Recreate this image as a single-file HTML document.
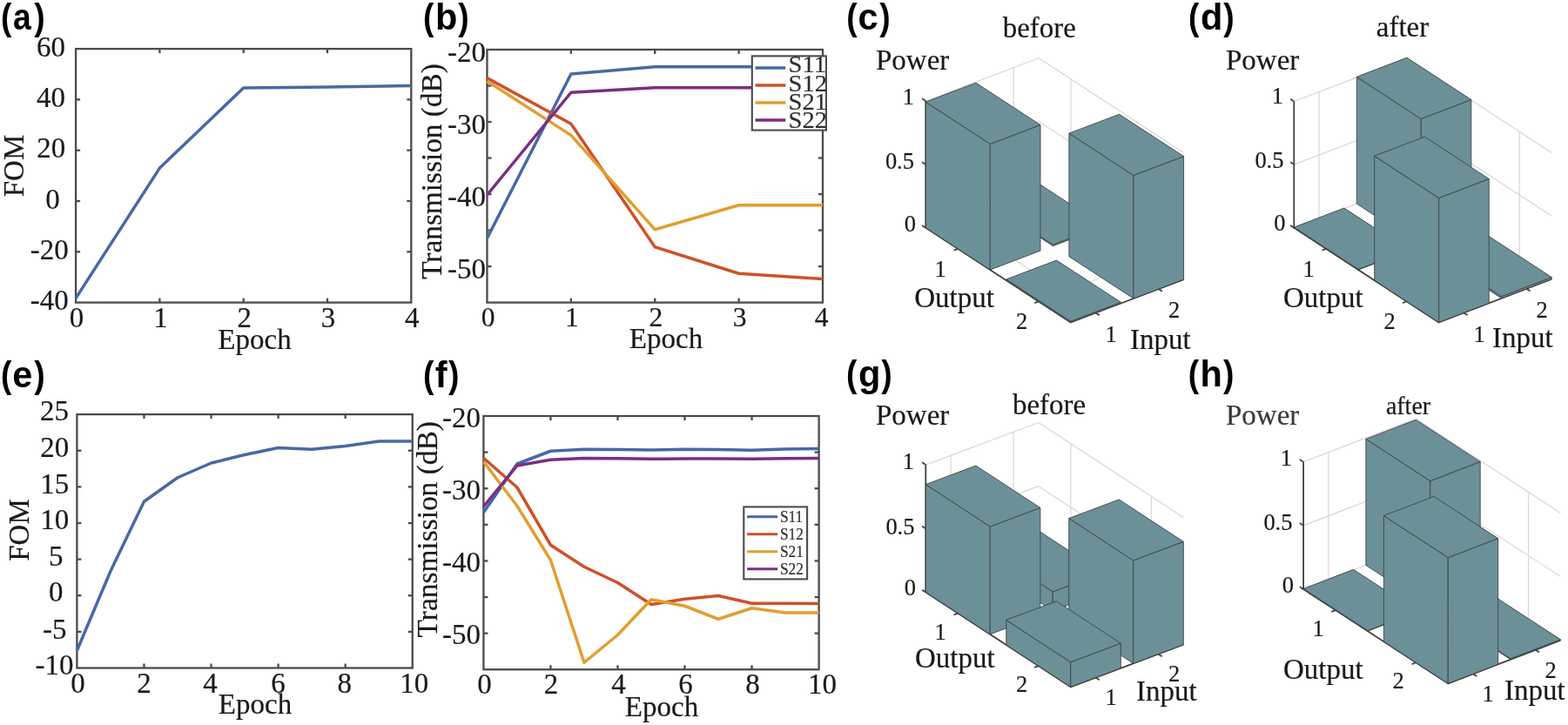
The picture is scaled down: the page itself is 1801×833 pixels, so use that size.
<!DOCTYPE html>
<html lang="en"><head><meta charset="utf-8"><title>Optimization results</title>
<style>html,body{margin:0;padding:0;background:#fff;}body{width:1801px;height:833px;overflow:hidden;}svg{display:block;}text{white-space:pre;}</style>
</head><body>
<svg width="1801" height="833" viewBox="0 0 1801 833" role="img" aria-label="Optimization results, panels a to h">
<rect width="1801" height="833" fill="#fff"/>
<g>
<clipPath id="clipa"><rect x="85.95" y="54.95" width="387.5" height="293.8"/></clipPath>
<rect x="87.1" y="56.1" width="385.2" height="291.5" fill="none" stroke="#4b4b4b" stroke-width="2.3"/>
<line x1="183.4" y1="347.6" x2="183.4" y2="342.6" stroke="#4b4b4b" stroke-width="2.3" stroke-linecap="butt"/>
<line x1="183.4" y1="56.1" x2="183.4" y2="61.1" stroke="#4b4b4b" stroke-width="2.3" stroke-linecap="butt"/>
<line x1="279.7" y1="347.6" x2="279.7" y2="342.6" stroke="#4b4b4b" stroke-width="2.3" stroke-linecap="butt"/>
<line x1="279.7" y1="56.1" x2="279.7" y2="61.1" stroke="#4b4b4b" stroke-width="2.3" stroke-linecap="butt"/>
<line x1="376" y1="347.6" x2="376" y2="342.6" stroke="#4b4b4b" stroke-width="2.3" stroke-linecap="butt"/>
<line x1="376" y1="56.1" x2="376" y2="61.1" stroke="#4b4b4b" stroke-width="2.3" stroke-linecap="butt"/>
<line x1="87.1" y1="114.4" x2="92.1" y2="114.4" stroke="#4b4b4b" stroke-width="2.3" stroke-linecap="butt"/>
<line x1="472.3" y1="114.4" x2="467.3" y2="114.4" stroke="#4b4b4b" stroke-width="2.3" stroke-linecap="butt"/>
<line x1="87.1" y1="172.7" x2="92.1" y2="172.7" stroke="#4b4b4b" stroke-width="2.3" stroke-linecap="butt"/>
<line x1="472.3" y1="172.7" x2="467.3" y2="172.7" stroke="#4b4b4b" stroke-width="2.3" stroke-linecap="butt"/>
<line x1="87.1" y1="231" x2="92.1" y2="231" stroke="#4b4b4b" stroke-width="2.3" stroke-linecap="butt"/>
<line x1="472.3" y1="231" x2="467.3" y2="231" stroke="#4b4b4b" stroke-width="2.3" stroke-linecap="butt"/>
<line x1="87.1" y1="289.3" x2="92.1" y2="289.3" stroke="#4b4b4b" stroke-width="2.3" stroke-linecap="butt"/>
<line x1="472.3" y1="289.3" x2="467.3" y2="289.3" stroke="#4b4b4b" stroke-width="2.3" stroke-linecap="butt"/>
<g clip-path="url(#clipa)">
<polyline points="87.1,342.6 183.4,193.1 279.7,100.9 376,100.1 472.3,98.4" fill="none" stroke="#4769a5" stroke-width="3.5" stroke-linejoin="round" stroke-linecap="butt"/>
</g>
<text transform="translate(88.1 375.8) scale(1 1.03)" font-family="'Liberation Serif', 'DejaVu Serif', serif" font-size="33" font-weight="normal" text-anchor="middle" fill="#1a1a1a" stroke="#1a1a1a" stroke-width="0.2">0</text>
<text transform="translate(184.4 375.8) scale(1 1.03)" font-family="'Liberation Serif', 'DejaVu Serif', serif" font-size="33" font-weight="normal" text-anchor="middle" fill="#1a1a1a" stroke="#1a1a1a" stroke-width="0.2">1</text>
<text transform="translate(280.7 375.8) scale(1 1.03)" font-family="'Liberation Serif', 'DejaVu Serif', serif" font-size="33" font-weight="normal" text-anchor="middle" fill="#1a1a1a" stroke="#1a1a1a" stroke-width="0.2">2</text>
<text transform="translate(377 375.8) scale(1 1.03)" font-family="'Liberation Serif', 'DejaVu Serif', serif" font-size="33" font-weight="normal" text-anchor="middle" fill="#1a1a1a" stroke="#1a1a1a" stroke-width="0.2">3</text>
<text transform="translate(473.3 375.8) scale(1 1.03)" font-family="'Liberation Serif', 'DejaVu Serif', serif" font-size="33" font-weight="normal" text-anchor="middle" fill="#1a1a1a" stroke="#1a1a1a" stroke-width="0.2">4</text>
<text transform="translate(75 65) scale(1 1.03)" font-family="'Liberation Serif', 'DejaVu Serif', serif" font-size="33" font-weight="normal" text-anchor="end" fill="#1a1a1a" stroke="#1a1a1a" stroke-width="0.2">60</text>
<text transform="translate(75 123.3) scale(1 1.03)" font-family="'Liberation Serif', 'DejaVu Serif', serif" font-size="33" font-weight="normal" text-anchor="end" fill="#1a1a1a" stroke="#1a1a1a" stroke-width="0.2">40</text>
<text transform="translate(75.3 181) scale(1 1.03)" font-family="'Liberation Serif', 'DejaVu Serif', serif" font-size="33" font-weight="normal" text-anchor="end" fill="#1a1a1a" stroke="#1a1a1a" stroke-width="0.2">20</text>
<text transform="translate(68.7 239.5) scale(1 1.03)" font-family="'Liberation Serif', 'DejaVu Serif', serif" font-size="33" font-weight="normal" text-anchor="end" fill="#1a1a1a" stroke="#1a1a1a" stroke-width="0.2">0</text>
<text transform="translate(78.7 298.2) scale(1 1.03)" font-family="'Liberation Serif', 'DejaVu Serif', serif" font-size="33" font-weight="normal" text-anchor="end" fill="#1a1a1a" stroke="#1a1a1a" stroke-width="0.2">-20</text>
<text transform="translate(78.7 355.8) scale(1 1.03)" font-family="'Liberation Serif', 'DejaVu Serif', serif" font-size="33" font-weight="normal" text-anchor="end" fill="#1a1a1a" stroke="#1a1a1a" stroke-width="0.2">-40</text>
<text transform="translate(292.5 401.4) scale(1 1.04)" font-family="'Liberation Serif', 'DejaVu Serif', serif" font-size="33" font-weight="normal" text-anchor="middle" fill="#1a1a1a" stroke="#1a1a1a" stroke-width="0.2">Epoch</text>
<text transform="translate(26.8 190.5) rotate(-90) scale(1 1.04)" font-family="'Liberation Serif', 'DejaVu Serif', serif" font-size="33" font-weight="normal" text-anchor="middle" fill="#1a1a1a" stroke="#1a1a1a" stroke-width="0.2">FOM</text>
</g>
<g>
<clipPath id="clipb"><rect x="558.35" y="55.85" width="387.8" height="292.9"/></clipPath>
<rect x="559.5" y="57" width="385.5" height="290.6" fill="none" stroke="#4b4b4b" stroke-width="2.3"/>
<line x1="655.88" y1="347.6" x2="655.88" y2="342.6" stroke="#4b4b4b" stroke-width="2.3" stroke-linecap="butt"/>
<line x1="655.88" y1="57" x2="655.88" y2="62" stroke="#4b4b4b" stroke-width="2.3" stroke-linecap="butt"/>
<line x1="752.25" y1="347.6" x2="752.25" y2="342.6" stroke="#4b4b4b" stroke-width="2.3" stroke-linecap="butt"/>
<line x1="752.25" y1="57" x2="752.25" y2="62" stroke="#4b4b4b" stroke-width="2.3" stroke-linecap="butt"/>
<line x1="848.62" y1="347.6" x2="848.62" y2="342.6" stroke="#4b4b4b" stroke-width="2.3" stroke-linecap="butt"/>
<line x1="848.62" y1="57" x2="848.62" y2="62" stroke="#4b4b4b" stroke-width="2.3" stroke-linecap="butt"/>
<line x1="559.5" y1="98.51" x2="564.5" y2="98.51" stroke="#4b4b4b" stroke-width="2.3" stroke-linecap="butt"/>
<line x1="945" y1="98.51" x2="940" y2="98.51" stroke="#4b4b4b" stroke-width="2.3" stroke-linecap="butt"/>
<line x1="559.5" y1="140.03" x2="564.5" y2="140.03" stroke="#4b4b4b" stroke-width="2.3" stroke-linecap="butt"/>
<line x1="945" y1="140.03" x2="940" y2="140.03" stroke="#4b4b4b" stroke-width="2.3" stroke-linecap="butt"/>
<line x1="559.5" y1="181.54" x2="564.5" y2="181.54" stroke="#4b4b4b" stroke-width="2.3" stroke-linecap="butt"/>
<line x1="945" y1="181.54" x2="940" y2="181.54" stroke="#4b4b4b" stroke-width="2.3" stroke-linecap="butt"/>
<line x1="559.5" y1="223.06" x2="564.5" y2="223.06" stroke="#4b4b4b" stroke-width="2.3" stroke-linecap="butt"/>
<line x1="945" y1="223.06" x2="940" y2="223.06" stroke="#4b4b4b" stroke-width="2.3" stroke-linecap="butt"/>
<line x1="559.5" y1="264.57" x2="564.5" y2="264.57" stroke="#4b4b4b" stroke-width="2.3" stroke-linecap="butt"/>
<line x1="945" y1="264.57" x2="940" y2="264.57" stroke="#4b4b4b" stroke-width="2.3" stroke-linecap="butt"/>
<line x1="559.5" y1="306.09" x2="564.5" y2="306.09" stroke="#4b4b4b" stroke-width="2.3" stroke-linecap="butt"/>
<line x1="945" y1="306.09" x2="940" y2="306.09" stroke="#4b4b4b" stroke-width="2.3" stroke-linecap="butt"/>
<g clip-path="url(#clipb)">
<polyline points="559.5,273.75 655.88,85 752.25,76.75 848.62,76.75 945,76.75" fill="none" stroke="#4769a5" stroke-width="3.5" stroke-linejoin="round" stroke-linecap="butt"/>
<polyline points="559.5,89.6 655.88,142.2 752.25,283.75 848.62,314.25 945,320.5" fill="none" stroke="#cd5228" stroke-width="3.5" stroke-linejoin="round" stroke-linecap="butt"/>
<polyline points="559.5,93.3 655.88,155.4 752.25,263.75 848.62,235.75 945,235.75" fill="none" stroke="#e29e30" stroke-width="3.5" stroke-linejoin="round" stroke-linecap="butt"/>
<polyline points="559.5,224 655.88,106.25 752.25,100.75 848.62,100.75 945,100.75" fill="none" stroke="#7b2d84" stroke-width="3.5" stroke-linejoin="round" stroke-linecap="butt"/>
</g>
<text transform="translate(560.5 374.6) scale(1 1.03)" font-family="'Liberation Serif', 'DejaVu Serif', serif" font-size="31.5" font-weight="normal" text-anchor="middle" fill="#1a1a1a" stroke="#1a1a1a" stroke-width="0.2">0</text>
<text transform="translate(656.88 374.6) scale(1 1.03)" font-family="'Liberation Serif', 'DejaVu Serif', serif" font-size="31.5" font-weight="normal" text-anchor="middle" fill="#1a1a1a" stroke="#1a1a1a" stroke-width="0.2">1</text>
<text transform="translate(753.25 374.6) scale(1 1.03)" font-family="'Liberation Serif', 'DejaVu Serif', serif" font-size="31.5" font-weight="normal" text-anchor="middle" fill="#1a1a1a" stroke="#1a1a1a" stroke-width="0.2">2</text>
<text transform="translate(849.62 374.6) scale(1 1.03)" font-family="'Liberation Serif', 'DejaVu Serif', serif" font-size="31.5" font-weight="normal" text-anchor="middle" fill="#1a1a1a" stroke="#1a1a1a" stroke-width="0.2">3</text>
<text transform="translate(943.5 374.6) scale(1 1.03)" font-family="'Liberation Serif', 'DejaVu Serif', serif" font-size="31.5" font-weight="normal" text-anchor="middle" fill="#1a1a1a" stroke="#1a1a1a" stroke-width="0.2">4</text>
<text transform="translate(558 71) scale(1 1.03)" font-family="'Liberation Serif', 'DejaVu Serif', serif" font-size="33" font-weight="normal" text-anchor="end" fill="#1a1a1a" stroke="#1a1a1a" stroke-width="0.2">-20</text>
<text transform="translate(558 154.03) scale(1 1.03)" font-family="'Liberation Serif', 'DejaVu Serif', serif" font-size="33" font-weight="normal" text-anchor="end" fill="#1a1a1a" stroke="#1a1a1a" stroke-width="0.2">-30</text>
<text transform="translate(558 237.06) scale(1 1.03)" font-family="'Liberation Serif', 'DejaVu Serif', serif" font-size="33" font-weight="normal" text-anchor="end" fill="#1a1a1a" stroke="#1a1a1a" stroke-width="0.2">-40</text>
<text transform="translate(558 320.09) scale(1 1.03)" font-family="'Liberation Serif', 'DejaVu Serif', serif" font-size="33" font-weight="normal" text-anchor="end" fill="#1a1a1a" stroke="#1a1a1a" stroke-width="0.2">-50</text>
<text transform="translate(765 399.7) scale(1 1.04)" font-family="'Liberation Serif', 'DejaVu Serif', serif" font-size="33" font-weight="normal" text-anchor="middle" fill="#1a1a1a" stroke="#1a1a1a" stroke-width="0.2">Epoch</text>
<text transform="translate(507.3 197) rotate(-90) scale(1 1.04)" font-family="'Liberation Serif', 'DejaVu Serif', serif" font-size="33.3" font-weight="normal" text-anchor="middle" fill="#1a1a1a" stroke="#1a1a1a" stroke-width="0.2">Transmission (dB)</text>
<rect x="863.8" y="64.4" width="85.1" height="85.2" fill="#fff" stroke="#4b4b4b" stroke-width="2.1"/>
<line x1="867.5" y1="78" x2="902.3" y2="78" stroke="#4769a5" stroke-width="3.3" stroke-linecap="butt"/>
<text transform="translate(905.5 83.4) scale(1 0.92)" font-family="'Liberation Serif', 'DejaVu Serif', serif" font-size="28.6" fill="#2e2e2e" stroke="#2e2e2e" stroke-width="0.2">S11</text>
<line x1="867.5" y1="98" x2="902.3" y2="98" stroke="#cd5228" stroke-width="3.3" stroke-linecap="butt"/>
<text transform="translate(905.5 104.7) scale(1 0.92)" font-family="'Liberation Serif', 'DejaVu Serif', serif" font-size="28.6" fill="#2e2e2e" stroke="#2e2e2e" stroke-width="0.2">S12</text>
<line x1="867.5" y1="118" x2="902.3" y2="118" stroke="#e29e30" stroke-width="3.3" stroke-linecap="butt"/>
<text transform="translate(905.5 125.9) scale(1 0.92)" font-family="'Liberation Serif', 'DejaVu Serif', serif" font-size="28.6" fill="#2e2e2e" stroke="#2e2e2e" stroke-width="0.2">S21</text>
<line x1="867.5" y1="138" x2="902.3" y2="138" stroke="#7b2d84" stroke-width="3.3" stroke-linecap="butt"/>
<text transform="translate(905.5 147.2) scale(1 0.92)" font-family="'Liberation Serif', 'DejaVu Serif', serif" font-size="28.6" fill="#2e2e2e" stroke="#2e2e2e" stroke-width="0.2">S22</text>
</g>
<g>
<clipPath id="clipe"><rect x="87.25" y="474.95" width="387.65" height="293.7"/></clipPath>
<rect x="88.4" y="476.1" width="385.35" height="291.4" fill="none" stroke="#4b4b4b" stroke-width="2.3"/>
<line x1="165.47" y1="767.5" x2="165.47" y2="762.5" stroke="#4b4b4b" stroke-width="2.3" stroke-linecap="butt"/>
<line x1="165.47" y1="476.1" x2="165.47" y2="481.1" stroke="#4b4b4b" stroke-width="2.3" stroke-linecap="butt"/>
<line x1="242.54" y1="767.5" x2="242.54" y2="762.5" stroke="#4b4b4b" stroke-width="2.3" stroke-linecap="butt"/>
<line x1="242.54" y1="476.1" x2="242.54" y2="481.1" stroke="#4b4b4b" stroke-width="2.3" stroke-linecap="butt"/>
<line x1="319.61" y1="767.5" x2="319.61" y2="762.5" stroke="#4b4b4b" stroke-width="2.3" stroke-linecap="butt"/>
<line x1="319.61" y1="476.1" x2="319.61" y2="481.1" stroke="#4b4b4b" stroke-width="2.3" stroke-linecap="butt"/>
<line x1="396.68" y1="767.5" x2="396.68" y2="762.5" stroke="#4b4b4b" stroke-width="2.3" stroke-linecap="butt"/>
<line x1="396.68" y1="476.1" x2="396.68" y2="481.1" stroke="#4b4b4b" stroke-width="2.3" stroke-linecap="butt"/>
<line x1="88.4" y1="517.73" x2="93.4" y2="517.73" stroke="#4b4b4b" stroke-width="2.3" stroke-linecap="butt"/>
<line x1="473.75" y1="517.73" x2="468.75" y2="517.73" stroke="#4b4b4b" stroke-width="2.3" stroke-linecap="butt"/>
<line x1="88.4" y1="559.36" x2="93.4" y2="559.36" stroke="#4b4b4b" stroke-width="2.3" stroke-linecap="butt"/>
<line x1="473.75" y1="559.36" x2="468.75" y2="559.36" stroke="#4b4b4b" stroke-width="2.3" stroke-linecap="butt"/>
<line x1="88.4" y1="600.99" x2="93.4" y2="600.99" stroke="#4b4b4b" stroke-width="2.3" stroke-linecap="butt"/>
<line x1="473.75" y1="600.99" x2="468.75" y2="600.99" stroke="#4b4b4b" stroke-width="2.3" stroke-linecap="butt"/>
<line x1="88.4" y1="642.61" x2="93.4" y2="642.61" stroke="#4b4b4b" stroke-width="2.3" stroke-linecap="butt"/>
<line x1="473.75" y1="642.61" x2="468.75" y2="642.61" stroke="#4b4b4b" stroke-width="2.3" stroke-linecap="butt"/>
<line x1="88.4" y1="684.24" x2="93.4" y2="684.24" stroke="#4b4b4b" stroke-width="2.3" stroke-linecap="butt"/>
<line x1="473.75" y1="684.24" x2="468.75" y2="684.24" stroke="#4b4b4b" stroke-width="2.3" stroke-linecap="butt"/>
<line x1="88.4" y1="725.87" x2="93.4" y2="725.87" stroke="#4b4b4b" stroke-width="2.3" stroke-linecap="butt"/>
<line x1="473.75" y1="725.87" x2="468.75" y2="725.87" stroke="#4b4b4b" stroke-width="2.3" stroke-linecap="butt"/>
<g clip-path="url(#clipe)">
<polyline points="88.4,747.5 126.94,656.25 165.47,576.25 204.01,548.75 242.54,532 281.08,522.5 319.61,514.5 358.14,516.25 396.68,512.5 435.22,507 473.75,507" fill="none" stroke="#4769a5" stroke-width="3.5" stroke-linejoin="round" stroke-linecap="butt"/>
</g>
<text transform="translate(89.4 795.6) scale(1 1.03)" font-family="'Liberation Serif', 'DejaVu Serif', serif" font-size="33" font-weight="normal" text-anchor="middle" fill="#1a1a1a" stroke="#1a1a1a" stroke-width="0.2">0</text>
<text transform="translate(165.47 795.6) scale(1 1.03)" font-family="'Liberation Serif', 'DejaVu Serif', serif" font-size="33" font-weight="normal" text-anchor="middle" fill="#1a1a1a" stroke="#1a1a1a" stroke-width="0.2">2</text>
<text transform="translate(241.54 795.6) scale(1 1.03)" font-family="'Liberation Serif', 'DejaVu Serif', serif" font-size="33" font-weight="normal" text-anchor="middle" fill="#1a1a1a" stroke="#1a1a1a" stroke-width="0.2">4</text>
<text transform="translate(319.61 795.6) scale(1 1.03)" font-family="'Liberation Serif', 'DejaVu Serif', serif" font-size="33" font-weight="normal" text-anchor="middle" fill="#1a1a1a" stroke="#1a1a1a" stroke-width="0.2">6</text>
<text transform="translate(395.68 795.6) scale(1 1.03)" font-family="'Liberation Serif', 'DejaVu Serif', serif" font-size="33" font-weight="normal" text-anchor="middle" fill="#1a1a1a" stroke="#1a1a1a" stroke-width="0.2">8</text>
<text transform="translate(475.75 795.6) scale(1 1.03)" font-family="'Liberation Serif', 'DejaVu Serif', serif" font-size="33" font-weight="normal" text-anchor="middle" fill="#1a1a1a" stroke="#1a1a1a" stroke-width="0.2">10</text>
<text transform="translate(79 483.1) scale(1 1.03)" font-family="'Liberation Serif', 'DejaVu Serif', serif" font-size="33" font-weight="normal" text-anchor="end" fill="#1a1a1a" stroke="#1a1a1a" stroke-width="0.2">25</text>
<text transform="translate(79.3 524.93) scale(1 1.03)" font-family="'Liberation Serif', 'DejaVu Serif', serif" font-size="33" font-weight="normal" text-anchor="end" fill="#1a1a1a" stroke="#1a1a1a" stroke-width="0.2">20</text>
<text transform="translate(79.3 566.56) scale(1 1.03)" font-family="'Liberation Serif', 'DejaVu Serif', serif" font-size="33" font-weight="normal" text-anchor="end" fill="#1a1a1a" stroke="#1a1a1a" stroke-width="0.2">15</text>
<text transform="translate(79.3 608.19) scale(1 1.03)" font-family="'Liberation Serif', 'DejaVu Serif', serif" font-size="33" font-weight="normal" text-anchor="end" fill="#1a1a1a" stroke="#1a1a1a" stroke-width="0.2">10</text>
<text transform="translate(72.5 650.41) scale(1 1.03)" font-family="'Liberation Serif', 'DejaVu Serif', serif" font-size="33" font-weight="normal" text-anchor="end" fill="#1a1a1a" stroke="#1a1a1a" stroke-width="0.2">5</text>
<text transform="translate(72.5 691.44) scale(1 1.03)" font-family="'Liberation Serif', 'DejaVu Serif', serif" font-size="33" font-weight="normal" text-anchor="end" fill="#1a1a1a" stroke="#1a1a1a" stroke-width="0.2">0</text>
<text transform="translate(76.6 733.87) scale(1 1.03)" font-family="'Liberation Serif', 'DejaVu Serif', serif" font-size="33" font-weight="normal" text-anchor="end" fill="#1a1a1a" stroke="#1a1a1a" stroke-width="0.2">-5</text>
<text transform="translate(84.5 774.7) scale(1 1.03)" font-family="'Liberation Serif', 'DejaVu Serif', serif" font-size="33" font-weight="normal" text-anchor="end" fill="#1a1a1a" stroke="#1a1a1a" stroke-width="0.2">-10</text>
<text transform="translate(293 820) scale(1 1.04)" font-family="'Liberation Serif', 'DejaVu Serif', serif" font-size="33" font-weight="normal" text-anchor="middle" fill="#1a1a1a" stroke="#1a1a1a" stroke-width="0.2">Epoch</text>
<text transform="translate(33 609) rotate(-90) scale(1 1.04)" font-family="'Liberation Serif', 'DejaVu Serif', serif" font-size="33" font-weight="normal" text-anchor="middle" fill="#1a1a1a" stroke="#1a1a1a" stroke-width="0.2">FOM</text>
</g>
<g>
<clipPath id="clipf"><rect x="554.25" y="476.85" width="387.5" height="293.55"/></clipPath>
<rect x="555.4" y="478" width="385.2" height="291.25" fill="none" stroke="#4b4b4b" stroke-width="2.3"/>
<line x1="632.44" y1="769.25" x2="632.44" y2="764.25" stroke="#4b4b4b" stroke-width="2.3" stroke-linecap="butt"/>
<line x1="632.44" y1="478" x2="632.44" y2="483" stroke="#4b4b4b" stroke-width="2.3" stroke-linecap="butt"/>
<line x1="709.48" y1="769.25" x2="709.48" y2="764.25" stroke="#4b4b4b" stroke-width="2.3" stroke-linecap="butt"/>
<line x1="709.48" y1="478" x2="709.48" y2="483" stroke="#4b4b4b" stroke-width="2.3" stroke-linecap="butt"/>
<line x1="786.52" y1="769.25" x2="786.52" y2="764.25" stroke="#4b4b4b" stroke-width="2.3" stroke-linecap="butt"/>
<line x1="786.52" y1="478" x2="786.52" y2="483" stroke="#4b4b4b" stroke-width="2.3" stroke-linecap="butt"/>
<line x1="863.56" y1="769.25" x2="863.56" y2="764.25" stroke="#4b4b4b" stroke-width="2.3" stroke-linecap="butt"/>
<line x1="863.56" y1="478" x2="863.56" y2="483" stroke="#4b4b4b" stroke-width="2.3" stroke-linecap="butt"/>
<line x1="555.4" y1="519.61" x2="560.4" y2="519.61" stroke="#4b4b4b" stroke-width="2.3" stroke-linecap="butt"/>
<line x1="940.6" y1="519.61" x2="935.6" y2="519.61" stroke="#4b4b4b" stroke-width="2.3" stroke-linecap="butt"/>
<line x1="555.4" y1="561.21" x2="560.4" y2="561.21" stroke="#4b4b4b" stroke-width="2.3" stroke-linecap="butt"/>
<line x1="940.6" y1="561.21" x2="935.6" y2="561.21" stroke="#4b4b4b" stroke-width="2.3" stroke-linecap="butt"/>
<line x1="555.4" y1="602.82" x2="560.4" y2="602.82" stroke="#4b4b4b" stroke-width="2.3" stroke-linecap="butt"/>
<line x1="940.6" y1="602.82" x2="935.6" y2="602.82" stroke="#4b4b4b" stroke-width="2.3" stroke-linecap="butt"/>
<line x1="555.4" y1="644.43" x2="560.4" y2="644.43" stroke="#4b4b4b" stroke-width="2.3" stroke-linecap="butt"/>
<line x1="940.6" y1="644.43" x2="935.6" y2="644.43" stroke="#4b4b4b" stroke-width="2.3" stroke-linecap="butt"/>
<line x1="555.4" y1="686.04" x2="560.4" y2="686.04" stroke="#4b4b4b" stroke-width="2.3" stroke-linecap="butt"/>
<line x1="940.6" y1="686.04" x2="935.6" y2="686.04" stroke="#4b4b4b" stroke-width="2.3" stroke-linecap="butt"/>
<line x1="555.4" y1="727.64" x2="560.4" y2="727.64" stroke="#4b4b4b" stroke-width="2.3" stroke-linecap="butt"/>
<line x1="940.6" y1="727.64" x2="935.6" y2="727.64" stroke="#4b4b4b" stroke-width="2.3" stroke-linecap="butt"/>
<g clip-path="url(#clipf)">
<polyline points="555.4,588.75 593.92,533 632.44,518.25 670.96,516.25 709.48,516.5 748,517 786.52,516.25 825.04,516.5 863.56,517.25 902.08,516 940.6,515.5" fill="none" stroke="#4769a5" stroke-width="3.5" stroke-linejoin="round" stroke-linecap="butt"/>
<polyline points="555.4,526.25 593.92,560 632.44,626.25 670.96,651.25 709.48,669.5 748,694.5 786.52,688.25 825.04,684.5 863.56,693.25 902.08,693.25 940.6,693.5" fill="none" stroke="#cd5228" stroke-width="3.5" stroke-linejoin="round" stroke-linecap="butt"/>
<polyline points="555.4,530.5 593.92,581.25 632.44,643.5 670.96,761.25 709.48,729.5 748,688.75 786.52,696.25 825.04,711.25 863.56,698.75 902.08,704 940.6,704" fill="none" stroke="#e29e30" stroke-width="3.5" stroke-linejoin="round" stroke-linecap="butt"/>
<polyline points="555.4,582 593.92,535 632.44,528.25 670.96,526.5 709.48,526.75 748,527.25 786.52,527 825.04,527 863.56,527.25 902.08,526.75 940.6,526.5" fill="none" stroke="#7b2d84" stroke-width="3.5" stroke-linejoin="round" stroke-linecap="butt"/>
</g>
<text transform="translate(556.4 797) scale(1 1.03)" font-family="'Liberation Serif', 'DejaVu Serif', serif" font-size="33" font-weight="normal" text-anchor="middle" fill="#1a1a1a" stroke="#1a1a1a" stroke-width="0.2">0</text>
<text transform="translate(632.94 797) scale(1 1.03)" font-family="'Liberation Serif', 'DejaVu Serif', serif" font-size="33" font-weight="normal" text-anchor="middle" fill="#1a1a1a" stroke="#1a1a1a" stroke-width="0.2">2</text>
<text transform="translate(710.48 797) scale(1 1.03)" font-family="'Liberation Serif', 'DejaVu Serif', serif" font-size="33" font-weight="normal" text-anchor="middle" fill="#1a1a1a" stroke="#1a1a1a" stroke-width="0.2">4</text>
<text transform="translate(787.52 797) scale(1 1.03)" font-family="'Liberation Serif', 'DejaVu Serif', serif" font-size="33" font-weight="normal" text-anchor="middle" fill="#1a1a1a" stroke="#1a1a1a" stroke-width="0.2">6</text>
<text transform="translate(864.56 797) scale(1 1.03)" font-family="'Liberation Serif', 'DejaVu Serif', serif" font-size="33" font-weight="normal" text-anchor="middle" fill="#1a1a1a" stroke="#1a1a1a" stroke-width="0.2">8</text>
<text transform="translate(944.4 797) scale(1 1.03)" font-family="'Liberation Serif', 'DejaVu Serif', serif" font-size="33" font-weight="normal" text-anchor="middle" fill="#1a1a1a" stroke="#1a1a1a" stroke-width="0.2">10</text>
<text transform="translate(551.9 490.8) scale(1 1.03)" font-family="'Liberation Serif', 'DejaVu Serif', serif" font-size="33" font-weight="normal" text-anchor="end" fill="#1a1a1a" stroke="#1a1a1a" stroke-width="0.2">-20</text>
<text transform="translate(551.9 574.01) scale(1 1.03)" font-family="'Liberation Serif', 'DejaVu Serif', serif" font-size="33" font-weight="normal" text-anchor="end" fill="#1a1a1a" stroke="#1a1a1a" stroke-width="0.2">-30</text>
<text transform="translate(551.9 657.23) scale(1 1.03)" font-family="'Liberation Serif', 'DejaVu Serif', serif" font-size="33" font-weight="normal" text-anchor="end" fill="#1a1a1a" stroke="#1a1a1a" stroke-width="0.2">-40</text>
<text transform="translate(551.9 740.44) scale(1 1.03)" font-family="'Liberation Serif', 'DejaVu Serif', serif" font-size="33" font-weight="normal" text-anchor="end" fill="#1a1a1a" stroke="#1a1a1a" stroke-width="0.2">-50</text>
<text transform="translate(760 822.7) scale(1 1.04)" font-family="'Liberation Serif', 'DejaVu Serif', serif" font-size="33" font-weight="normal" text-anchor="middle" fill="#1a1a1a" stroke="#1a1a1a" stroke-width="0.2">Epoch</text>
<text transform="translate(501.9 608.3) rotate(-90) scale(1 1.04)" font-family="'Liberation Serif', 'DejaVu Serif', serif" font-size="33.4" font-weight="normal" text-anchor="middle" fill="#1a1a1a" stroke="#1a1a1a" stroke-width="0.2">Transmission (dB)</text>
<rect x="854.3" y="582.4" width="72.8" height="83" fill="#fff" stroke="#4b4b4b" stroke-width="2.1"/>
<line x1="858.1" y1="593.75" x2="893.2" y2="593.75" stroke="#4769a5" stroke-width="2.8" stroke-linecap="butt"/>
<text transform="translate(896 600.45) scale(1 1.04)" font-family="'Liberation Serif', 'DejaVu Serif', serif" font-size="17.3" fill="#2e2e2e" stroke="#2e2e2e" stroke-width="0.2">S11</text>
<line x1="858.1" y1="613.75" x2="893.2" y2="613.75" stroke="#cd5228" stroke-width="2.8" stroke-linecap="butt"/>
<text transform="translate(896 620.45) scale(1 1.04)" font-family="'Liberation Serif', 'DejaVu Serif', serif" font-size="17.3" fill="#2e2e2e" stroke="#2e2e2e" stroke-width="0.2">S12</text>
<line x1="858.1" y1="633.75" x2="893.2" y2="633.75" stroke="#e29e30" stroke-width="2.8" stroke-linecap="butt"/>
<text transform="translate(896 640.45) scale(1 1.04)" font-family="'Liberation Serif', 'DejaVu Serif', serif" font-size="17.3" fill="#2e2e2e" stroke="#2e2e2e" stroke-width="0.2">S21</text>
<line x1="858.1" y1="653.75" x2="893.2" y2="653.75" stroke="#7b2d84" stroke-width="2.8" stroke-linecap="butt"/>
<text transform="translate(896 660.45) scale(1 1.04)" font-family="'Liberation Serif', 'DejaVu Serif', serif" font-size="17.3" fill="#2e2e2e" stroke="#2e2e2e" stroke-width="0.2">S22</text>
</g>
<g>
<polyline points="1063.3,261.7 1193.08,212.38 1359.58,321.1" fill="none" stroke="#ddd5d3" stroke-width="1.2" stroke-linejoin="round" stroke-linecap="butt"/>
<polyline points="1063.3,188.9 1193.08,139.58 1359.58,248.3" fill="none" stroke="#ddd5d3" stroke-width="1.2" stroke-linejoin="round" stroke-linecap="butt"/>
<polyline points="1063.3,116.1 1193.08,66.78 1359.58,175.5" fill="none" stroke="#ddd5d3" stroke-width="1.2" stroke-linejoin="round" stroke-linecap="butt"/>
<line x1="1092.14" y1="250.74" x2="1092.14" y2="105.14" stroke="#ddd5d3" stroke-width="1.2" stroke-linecap="butt"/>
<line x1="1092.14" y1="250.74" x2="1258.64" y2="359.46" stroke="#ddd5d3" stroke-width="1.2" stroke-linecap="butt"/>
<line x1="1164.24" y1="223.34" x2="1164.24" y2="77.74" stroke="#ddd5d3" stroke-width="1.2" stroke-linecap="butt"/>
<line x1="1164.24" y1="223.34" x2="1330.74" y2="332.06" stroke="#ddd5d3" stroke-width="1.2" stroke-linecap="butt"/>
<line x1="1230.08" y1="236.54" x2="1230.08" y2="90.94" stroke="#ddd5d3" stroke-width="1.2" stroke-linecap="butt"/>
<line x1="1230.08" y1="236.54" x2="1100.3" y2="285.86" stroke="#ddd5d3" stroke-width="1.2" stroke-linecap="butt"/>
<line x1="1322.58" y1="296.94" x2="1322.58" y2="151.34" stroke="#ddd5d3" stroke-width="1.2" stroke-linecap="butt"/>
<line x1="1322.58" y1="296.94" x2="1192.8" y2="346.26" stroke="#ddd5d3" stroke-width="1.2" stroke-linecap="butt"/>
<polyline points="1063.3,116.1 1063.3,261.7 1229.8,370.42 1359.58,321.1" fill="none" stroke="#453e3c" stroke-width="1.8" stroke-linejoin="round" stroke-linecap="butt"/>
<line x1="1063.3" y1="261.7" x2="1059.11" y2="258.97" stroke="#453e3c" stroke-width="1.8" stroke-linecap="butt"/>
<line x1="1063.3" y1="188.9" x2="1059.11" y2="186.17" stroke="#453e3c" stroke-width="1.8" stroke-linecap="butt"/>
<line x1="1063.3" y1="116.1" x2="1059.11" y2="113.37" stroke="#453e3c" stroke-width="1.8" stroke-linecap="butt"/>
<line x1="1100.3" y1="285.86" x2="1095.63" y2="287.64" stroke="#453e3c" stroke-width="1.8" stroke-linecap="butt"/>
<line x1="1192.8" y1="346.26" x2="1188.13" y2="348.04" stroke="#453e3c" stroke-width="1.8" stroke-linecap="butt"/>
<line x1="1258.64" y1="359.46" x2="1262.83" y2="362.19" stroke="#453e3c" stroke-width="1.8" stroke-linecap="butt"/>
<line x1="1330.74" y1="332.06" x2="1334.93" y2="334.79" stroke="#453e3c" stroke-width="1.8" stroke-linecap="butt"/>
<polygon points="1135.4,234.3 1209.4,282.62 1209.4,281.16 1135.4,232.84" fill="#6c9097" stroke="#3a4446" stroke-width="0.9" stroke-linejoin="round"/>
<polygon points="1209.4,282.62 1267.08,260.7 1267.08,259.24 1209.4,281.16" fill="#6c9097" stroke="#3a4446" stroke-width="0.9" stroke-linejoin="round"/>
<polygon points="1135.4,232.84 1209.4,281.16 1267.08,259.24 1193.08,210.92" fill="#6c9097" stroke="#3a4446" stroke-width="0.9" stroke-linejoin="round"/>
<polygon points="1063.3,261.7 1137.3,310.02 1137.3,165.44 1063.3,117.12" fill="#6c9097" stroke="#3a4446" stroke-width="0.9" stroke-linejoin="round"/>
<polygon points="1137.3,310.02 1194.98,288.1 1194.98,143.52 1137.3,165.44" fill="#6c9097" stroke="#3a4446" stroke-width="0.9" stroke-linejoin="round"/>
<polygon points="1063.3,117.12 1137.3,165.44 1194.98,143.52 1120.98,95.2" fill="#6c9097" stroke="#3a4446" stroke-width="0.9" stroke-linejoin="round"/>
<polygon points="1227.9,294.7 1301.9,343.02 1301.9,201.5 1227.9,153.18" fill="#6c9097" stroke="#3a4446" stroke-width="0.9" stroke-linejoin="round"/>
<polygon points="1301.9,343.02 1359.58,321.1 1359.58,179.58 1301.9,201.5" fill="#6c9097" stroke="#3a4446" stroke-width="0.9" stroke-linejoin="round"/>
<polygon points="1227.9,153.18 1301.9,201.5 1359.58,179.58 1285.58,131.26" fill="#6c9097" stroke="#3a4446" stroke-width="0.9" stroke-linejoin="round"/>
<polygon points="1155.8,322.1 1229.8,370.42 1229.8,369.26 1155.8,320.94" fill="#6c9097" stroke="#3a4446" stroke-width="0.9" stroke-linejoin="round"/>
<polygon points="1229.8,370.42 1287.48,348.5 1287.48,347.34 1229.8,369.26" fill="#6c9097" stroke="#3a4446" stroke-width="0.9" stroke-linejoin="round"/>
<polygon points="1155.8,320.94 1229.8,369.26 1287.48,347.34 1213.48,299.02" fill="#6c9097" stroke="#3a4446" stroke-width="0.9" stroke-linejoin="round"/>
<text transform="translate(1193.75 42.5) scale(1 1.04)" font-family="'Liberation Serif', 'DejaVu Serif', serif" font-size="33" font-weight="normal" text-anchor="middle" fill="#1a1a1a" stroke="#1a1a1a" stroke-width="0.2">before</text>
<text transform="translate(1006 80) scale(1 1.04)" font-family="'Liberation Serif', 'DejaVu Serif', serif" font-size="33" font-weight="normal" text-anchor="start" fill="#1a1a1a" stroke="#1a1a1a" stroke-width="0.2">Power</text>
<text transform="translate(1050 119.5) scale(1 1.03)" font-family="'Liberation Serif', 'DejaVu Serif', serif" font-size="26.5" font-weight="normal" text-anchor="end" fill="#1a1a1a" stroke="#1a1a1a" stroke-width="0.2">1</text>
<text transform="translate(1050 193.5) scale(1 1.03)" font-family="'Liberation Serif', 'DejaVu Serif', serif" font-size="26.5" font-weight="normal" text-anchor="end" fill="#1a1a1a" stroke="#1a1a1a" stroke-width="0.2">0.5</text>
<text transform="translate(1052 266) scale(1 1.03)" font-family="'Liberation Serif', 'DejaVu Serif', serif" font-size="26.5" font-weight="normal" text-anchor="end" fill="#1a1a1a" stroke="#1a1a1a" stroke-width="0.2">0</text>
<text transform="translate(1080 317.5) scale(1 1.03)" font-family="'Liberation Serif', 'DejaVu Serif', serif" font-size="26.5" font-weight="normal" text-anchor="middle" fill="#1a1a1a" stroke="#1a1a1a" stroke-width="0.2">1</text>
<text transform="translate(1173.5 377.5) scale(1 1.03)" font-family="'Liberation Serif', 'DejaVu Serif', serif" font-size="26.5" font-weight="normal" text-anchor="middle" fill="#1a1a1a" stroke="#1a1a1a" stroke-width="0.2">2</text>
<text transform="translate(1276 392.5) scale(1 1.03)" font-family="'Liberation Serif', 'DejaVu Serif', serif" font-size="26.5" font-weight="normal" text-anchor="middle" fill="#1a1a1a" stroke="#1a1a1a" stroke-width="0.2">1</text>
<text transform="translate(1348.5 365) scale(1 1.03)" font-family="'Liberation Serif', 'DejaVu Serif', serif" font-size="26.5" font-weight="normal" text-anchor="middle" fill="#1a1a1a" stroke="#1a1a1a" stroke-width="0.2">2</text>
<text transform="translate(1050.3 352.5) scale(1 1.04)" font-family="'Liberation Serif', 'DejaVu Serif', serif" font-size="33" font-weight="normal" text-anchor="start" fill="#1a1a1a" stroke="#1a1a1a" stroke-width="0.2">Output</text>
<text transform="translate(1298 400.5) scale(1 1.04)" font-family="'Liberation Serif', 'DejaVu Serif', serif" font-size="33" font-weight="normal" text-anchor="start" fill="#1a1a1a" stroke="#1a1a1a" stroke-width="0.2">Input</text>
</g>
<g>
<polyline points="1486.3,261.7 1615.9,212.02 1782.22,320.74" fill="none" stroke="#ddd5d3" stroke-width="1.2" stroke-linejoin="round" stroke-linecap="butt"/>
<polyline points="1486.3,189.1 1615.9,139.42 1782.22,248.14" fill="none" stroke="#ddd5d3" stroke-width="1.2" stroke-linejoin="round" stroke-linecap="butt"/>
<polyline points="1486.3,116.5 1615.9,66.82 1782.22,175.54" fill="none" stroke="#ddd5d3" stroke-width="1.2" stroke-linejoin="round" stroke-linecap="butt"/>
<line x1="1515.1" y1="250.66" x2="1515.1" y2="105.46" stroke="#ddd5d3" stroke-width="1.2" stroke-linecap="butt"/>
<line x1="1515.1" y1="250.66" x2="1681.42" y2="359.38" stroke="#ddd5d3" stroke-width="1.2" stroke-linecap="butt"/>
<line x1="1587.1" y1="223.06" x2="1587.1" y2="77.86" stroke="#ddd5d3" stroke-width="1.2" stroke-linecap="butt"/>
<line x1="1587.1" y1="223.06" x2="1753.42" y2="331.78" stroke="#ddd5d3" stroke-width="1.2" stroke-linecap="butt"/>
<line x1="1652.86" y1="236.18" x2="1652.86" y2="90.98" stroke="#ddd5d3" stroke-width="1.2" stroke-linecap="butt"/>
<line x1="1652.86" y1="236.18" x2="1523.26" y2="285.86" stroke="#ddd5d3" stroke-width="1.2" stroke-linecap="butt"/>
<line x1="1745.26" y1="296.58" x2="1745.26" y2="151.38" stroke="#ddd5d3" stroke-width="1.2" stroke-linecap="butt"/>
<line x1="1745.26" y1="296.58" x2="1615.66" y2="346.26" stroke="#ddd5d3" stroke-width="1.2" stroke-linecap="butt"/>
<polyline points="1486.3,116.5 1486.3,261.7 1652.62,370.42 1782.22,320.74" fill="none" stroke="#453e3c" stroke-width="1.8" stroke-linejoin="round" stroke-linecap="butt"/>
<line x1="1486.3" y1="261.7" x2="1482.11" y2="258.96" stroke="#453e3c" stroke-width="1.8" stroke-linecap="butt"/>
<line x1="1486.3" y1="189.1" x2="1482.11" y2="186.36" stroke="#453e3c" stroke-width="1.8" stroke-linecap="butt"/>
<line x1="1486.3" y1="116.5" x2="1482.11" y2="113.76" stroke="#453e3c" stroke-width="1.8" stroke-linecap="butt"/>
<line x1="1523.26" y1="285.86" x2="1518.59" y2="287.65" stroke="#453e3c" stroke-width="1.8" stroke-linecap="butt"/>
<line x1="1615.66" y1="346.26" x2="1610.99" y2="348.05" stroke="#453e3c" stroke-width="1.8" stroke-linecap="butt"/>
<line x1="1681.42" y1="359.38" x2="1685.61" y2="362.12" stroke="#453e3c" stroke-width="1.8" stroke-linecap="butt"/>
<line x1="1753.42" y1="331.78" x2="1757.61" y2="334.52" stroke="#453e3c" stroke-width="1.8" stroke-linecap="butt"/>
<polygon points="1558.3,234.1 1632.22,282.42 1632.22,136.64 1558.3,88.32" fill="#6c9097" stroke="#3a4446" stroke-width="0.9" stroke-linejoin="round"/>
<polygon points="1632.22,282.42 1689.82,260.34 1689.82,114.56 1632.22,136.64" fill="#6c9097" stroke="#3a4446" stroke-width="0.9" stroke-linejoin="round"/>
<polygon points="1558.3,88.32 1632.22,136.64 1689.82,114.56 1615.9,66.24" fill="#6c9097" stroke="#3a4446" stroke-width="0.9" stroke-linejoin="round"/>
<polygon points="1486.3,261.7 1560.22,310.02 1560.22,309.44 1486.3,261.12" fill="#6c9097" stroke="#3a4446" stroke-width="0.9" stroke-linejoin="round"/>
<polygon points="1560.22,310.02 1617.82,287.94 1617.82,287.36 1560.22,309.44" fill="#6c9097" stroke="#3a4446" stroke-width="0.9" stroke-linejoin="round"/>
<polygon points="1486.3,261.12 1560.22,309.44 1617.82,287.36 1543.9,239.04" fill="#6c9097" stroke="#3a4446" stroke-width="0.9" stroke-linejoin="round"/>
<polygon points="1650.7,294.5 1724.62,342.82 1724.62,340.64 1650.7,292.32" fill="#6c9097" stroke="#3a4446" stroke-width="0.9" stroke-linejoin="round"/>
<polygon points="1724.62,342.82 1782.22,320.74 1782.22,318.56 1724.62,340.64" fill="#6c9097" stroke="#3a4446" stroke-width="0.9" stroke-linejoin="round"/>
<polygon points="1650.7,292.32 1724.62,340.64 1782.22,318.56 1708.3,270.24" fill="#6c9097" stroke="#3a4446" stroke-width="0.9" stroke-linejoin="round"/>
<polygon points="1578.7,322.1 1652.62,370.42 1652.62,227.54 1578.7,179.22" fill="#6c9097" stroke="#3a4446" stroke-width="0.9" stroke-linejoin="round"/>
<polygon points="1652.62,370.42 1710.22,348.34 1710.22,205.46 1652.62,227.54" fill="#6c9097" stroke="#3a4446" stroke-width="0.9" stroke-linejoin="round"/>
<polygon points="1578.7,179.22 1652.62,227.54 1710.22,205.46 1636.3,157.14" fill="#6c9097" stroke="#3a4446" stroke-width="0.9" stroke-linejoin="round"/>
<text transform="translate(1611 42) scale(1 1.04)" font-family="'Liberation Serif', 'DejaVu Serif', serif" font-size="33" font-weight="normal" text-anchor="middle" fill="#1a1a1a" stroke="#1a1a1a" stroke-width="0.2">after</text>
<text transform="translate(1408 80) scale(1 1.04)" font-family="'Liberation Serif', 'DejaVu Serif', serif" font-size="33" font-weight="normal" text-anchor="start" fill="#1a1a1a" stroke="#1a1a1a" stroke-width="0.2">Power</text>
<text transform="translate(1474 118.5) scale(1 1.03)" font-family="'Liberation Serif', 'DejaVu Serif', serif" font-size="26.5" font-weight="normal" text-anchor="end" fill="#1a1a1a" stroke="#1a1a1a" stroke-width="0.2">1</text>
<text transform="translate(1474.5 193) scale(1 1.03)" font-family="'Liberation Serif', 'DejaVu Serif', serif" font-size="26.5" font-weight="normal" text-anchor="end" fill="#1a1a1a" stroke="#1a1a1a" stroke-width="0.2">0.5</text>
<text transform="translate(1476.5 265.3) scale(1 1.03)" font-family="'Liberation Serif', 'DejaVu Serif', serif" font-size="26.5" font-weight="normal" text-anchor="end" fill="#1a1a1a" stroke="#1a1a1a" stroke-width="0.2">0</text>
<text transform="translate(1503 317.5) scale(1 1.03)" font-family="'Liberation Serif', 'DejaVu Serif', serif" font-size="26.5" font-weight="normal" text-anchor="middle" fill="#1a1a1a" stroke="#1a1a1a" stroke-width="0.2">1</text>
<text transform="translate(1596 377.5) scale(1 1.03)" font-family="'Liberation Serif', 'DejaVu Serif', serif" font-size="26.5" font-weight="normal" text-anchor="middle" fill="#1a1a1a" stroke="#1a1a1a" stroke-width="0.2">2</text>
<text transform="translate(1699 392.5) scale(1 1.03)" font-family="'Liberation Serif', 'DejaVu Serif', serif" font-size="26.5" font-weight="normal" text-anchor="middle" fill="#1a1a1a" stroke="#1a1a1a" stroke-width="0.2">1</text>
<text transform="translate(1771 365) scale(1 1.03)" font-family="'Liberation Serif', 'DejaVu Serif', serif" font-size="26.5" font-weight="normal" text-anchor="middle" fill="#1a1a1a" stroke="#1a1a1a" stroke-width="0.2">2</text>
<text transform="translate(1474 352.5) scale(1 1.04)" font-family="'Liberation Serif', 'DejaVu Serif', serif" font-size="33" font-weight="normal" text-anchor="start" fill="#1a1a1a" stroke="#1a1a1a" stroke-width="0.2">Output</text>
<text transform="translate(1714 399) scale(1 1.04)" font-family="'Liberation Serif', 'DejaVu Serif', serif" font-size="33" font-weight="normal" text-anchor="start" fill="#1a1a1a" stroke="#1a1a1a" stroke-width="0.2">Input</text>
</g>
<g>
<polyline points="1063.3,680.4 1192.9,631.8 1359.31,740.7" fill="none" stroke="#ddd5d3" stroke-width="1.2" stroke-linejoin="round" stroke-linecap="butt"/>
<polyline points="1063.3,607.25 1192.9,558.65 1359.31,667.55" fill="none" stroke="#ddd5d3" stroke-width="1.2" stroke-linejoin="round" stroke-linecap="butt"/>
<polyline points="1063.3,534.1 1192.9,485.5 1359.31,594.4" fill="none" stroke="#ddd5d3" stroke-width="1.2" stroke-linejoin="round" stroke-linecap="butt"/>
<line x1="1092.1" y1="669.6" x2="1092.1" y2="523.3" stroke="#ddd5d3" stroke-width="1.2" stroke-linecap="butt"/>
<line x1="1092.1" y1="669.6" x2="1258.51" y2="778.5" stroke="#ddd5d3" stroke-width="1.2" stroke-linecap="butt"/>
<line x1="1164.1" y1="642.6" x2="1164.1" y2="496.3" stroke="#ddd5d3" stroke-width="1.2" stroke-linecap="butt"/>
<line x1="1164.1" y1="642.6" x2="1330.51" y2="751.5" stroke="#ddd5d3" stroke-width="1.2" stroke-linecap="butt"/>
<line x1="1229.88" y1="656" x2="1229.88" y2="509.7" stroke="#ddd5d3" stroke-width="1.2" stroke-linecap="butt"/>
<line x1="1229.88" y1="656" x2="1100.28" y2="704.6" stroke="#ddd5d3" stroke-width="1.2" stroke-linecap="butt"/>
<line x1="1322.33" y1="716.5" x2="1322.33" y2="570.2" stroke="#ddd5d3" stroke-width="1.2" stroke-linecap="butt"/>
<line x1="1322.33" y1="716.5" x2="1192.73" y2="765.1" stroke="#ddd5d3" stroke-width="1.2" stroke-linecap="butt"/>
<polyline points="1063.3,534.1 1063.3,680.4 1229.71,789.3 1359.31,740.7" fill="none" stroke="#453e3c" stroke-width="1.8" stroke-linejoin="round" stroke-linecap="butt"/>
<line x1="1063.3" y1="680.4" x2="1059.12" y2="677.66" stroke="#453e3c" stroke-width="1.8" stroke-linecap="butt"/>
<line x1="1063.3" y1="607.25" x2="1059.12" y2="604.51" stroke="#453e3c" stroke-width="1.8" stroke-linecap="butt"/>
<line x1="1063.3" y1="534.1" x2="1059.12" y2="531.36" stroke="#453e3c" stroke-width="1.8" stroke-linecap="butt"/>
<line x1="1100.28" y1="704.6" x2="1095.6" y2="706.36" stroke="#453e3c" stroke-width="1.8" stroke-linecap="butt"/>
<line x1="1192.73" y1="765.1" x2="1188.05" y2="766.86" stroke="#453e3c" stroke-width="1.8" stroke-linecap="butt"/>
<line x1="1258.51" y1="778.5" x2="1262.69" y2="781.24" stroke="#453e3c" stroke-width="1.8" stroke-linecap="butt"/>
<line x1="1330.51" y1="751.5" x2="1334.69" y2="754.24" stroke="#453e3c" stroke-width="1.8" stroke-linecap="butt"/>
<polygon points="1135.3,653.4 1209.26,701.8 1209.26,679.85 1135.3,631.45" fill="#6c9097" stroke="#3a4446" stroke-width="0.9" stroke-linejoin="round"/>
<polygon points="1209.26,701.8 1266.86,680.2 1266.86,658.25 1209.26,679.85" fill="#6c9097" stroke="#3a4446" stroke-width="0.9" stroke-linejoin="round"/>
<polygon points="1135.3,631.45 1209.26,679.85 1266.86,658.25 1192.9,609.85" fill="#6c9097" stroke="#3a4446" stroke-width="0.9" stroke-linejoin="round"/>
<polygon points="1063.3,680.4 1137.26,728.8 1137.26,605.03 1063.3,556.63" fill="#6c9097" stroke="#3a4446" stroke-width="0.9" stroke-linejoin="round"/>
<polygon points="1137.26,728.8 1194.86,707.2 1194.86,583.43 1137.26,605.03" fill="#6c9097" stroke="#3a4446" stroke-width="0.9" stroke-linejoin="round"/>
<polygon points="1063.3,556.63 1137.26,605.03 1194.86,583.43 1120.9,535.03" fill="#6c9097" stroke="#3a4446" stroke-width="0.9" stroke-linejoin="round"/>
<polygon points="1227.75,713.9 1301.71,762.3 1301.71,643.94 1227.75,595.54" fill="#6c9097" stroke="#3a4446" stroke-width="0.9" stroke-linejoin="round"/>
<polygon points="1301.71,762.3 1359.31,740.7 1359.31,622.34 1301.71,643.94" fill="#6c9097" stroke="#3a4446" stroke-width="0.9" stroke-linejoin="round"/>
<polygon points="1227.75,595.54 1301.71,643.94 1359.31,622.34 1285.35,573.94" fill="#6c9097" stroke="#3a4446" stroke-width="0.9" stroke-linejoin="round"/>
<polygon points="1155.75,740.9 1229.71,789.3 1229.71,760.77 1155.75,712.37" fill="#6c9097" stroke="#3a4446" stroke-width="0.9" stroke-linejoin="round"/>
<polygon points="1229.71,789.3 1287.31,767.7 1287.31,739.17 1229.71,760.77" fill="#6c9097" stroke="#3a4446" stroke-width="0.9" stroke-linejoin="round"/>
<polygon points="1155.75,712.37 1229.71,760.77 1287.31,739.17 1213.35,690.77" fill="#6c9097" stroke="#3a4446" stroke-width="0.9" stroke-linejoin="round"/>
<text transform="translate(1205 476.2) scale(1 1.04)" font-family="'Liberation Serif', 'DejaVu Serif', serif" font-size="33" font-weight="normal" text-anchor="middle" fill="#1a1a1a" stroke="#1a1a1a" stroke-width="0.2">before</text>
<text transform="translate(1006 488.3) scale(1 1.04)" font-family="'Liberation Serif', 'DejaVu Serif', serif" font-size="33" font-weight="normal" text-anchor="start" fill="#1a1a1a" stroke="#1a1a1a" stroke-width="0.2">Power</text>
<text transform="translate(1050 538.5) scale(1 1.03)" font-family="'Liberation Serif', 'DejaVu Serif', serif" font-size="26.5" font-weight="normal" text-anchor="end" fill="#1a1a1a" stroke="#1a1a1a" stroke-width="0.2">1</text>
<text transform="translate(1050.5 613.5) scale(1 1.03)" font-family="'Liberation Serif', 'DejaVu Serif', serif" font-size="26.5" font-weight="normal" text-anchor="end" fill="#1a1a1a" stroke="#1a1a1a" stroke-width="0.2">0.5</text>
<text transform="translate(1052 684) scale(1 1.03)" font-family="'Liberation Serif', 'DejaVu Serif', serif" font-size="26.5" font-weight="normal" text-anchor="end" fill="#1a1a1a" stroke="#1a1a1a" stroke-width="0.2">0</text>
<text transform="translate(1080 735) scale(1 1.03)" font-family="'Liberation Serif', 'DejaVu Serif', serif" font-size="26.5" font-weight="normal" text-anchor="middle" fill="#1a1a1a" stroke="#1a1a1a" stroke-width="0.2">1</text>
<text transform="translate(1173.5 795) scale(1 1.03)" font-family="'Liberation Serif', 'DejaVu Serif', serif" font-size="26.5" font-weight="normal" text-anchor="middle" fill="#1a1a1a" stroke="#1a1a1a" stroke-width="0.2">2</text>
<text transform="translate(1276 810) scale(1 1.03)" font-family="'Liberation Serif', 'DejaVu Serif', serif" font-size="26.5" font-weight="normal" text-anchor="middle" fill="#1a1a1a" stroke="#1a1a1a" stroke-width="0.2">1</text>
<text transform="translate(1348.5 783) scale(1 1.03)" font-family="'Liberation Serif', 'DejaVu Serif', serif" font-size="26.5" font-weight="normal" text-anchor="middle" fill="#1a1a1a" stroke="#1a1a1a" stroke-width="0.2">2</text>
<text transform="translate(1051 767) scale(1 1.04)" font-family="'Liberation Serif', 'DejaVu Serif', serif" font-size="33" font-weight="normal" text-anchor="start" fill="#1a1a1a" stroke="#1a1a1a" stroke-width="0.2">Output</text>
<text transform="translate(1305 805) scale(1 1.04)" font-family="'Liberation Serif', 'DejaVu Serif', serif" font-size="33" font-weight="normal" text-anchor="start" fill="#1a1a1a" stroke="#1a1a1a" stroke-width="0.2">Input</text>
</g>
<g>
<polyline points="1497.1,677 1626.34,627.32 1792.48,735.68" fill="none" stroke="#ddd5d3" stroke-width="1.2" stroke-linejoin="round" stroke-linecap="butt"/>
<polyline points="1497.1,603.85 1626.34,554.17 1792.48,662.53" fill="none" stroke="#ddd5d3" stroke-width="1.2" stroke-linejoin="round" stroke-linecap="butt"/>
<polyline points="1497.1,530.7 1626.34,481.02 1792.48,589.38" fill="none" stroke="#ddd5d3" stroke-width="1.2" stroke-linejoin="round" stroke-linecap="butt"/>
<line x1="1525.82" y1="665.96" x2="1525.82" y2="519.66" stroke="#ddd5d3" stroke-width="1.2" stroke-linecap="butt"/>
<line x1="1525.82" y1="665.96" x2="1691.96" y2="774.32" stroke="#ddd5d3" stroke-width="1.2" stroke-linecap="butt"/>
<line x1="1597.62" y1="638.36" x2="1597.62" y2="492.06" stroke="#ddd5d3" stroke-width="1.2" stroke-linecap="butt"/>
<line x1="1597.62" y1="638.36" x2="1763.76" y2="746.72" stroke="#ddd5d3" stroke-width="1.2" stroke-linecap="butt"/>
<line x1="1663.26" y1="651.4" x2="1663.26" y2="505.1" stroke="#ddd5d3" stroke-width="1.2" stroke-linecap="butt"/>
<line x1="1663.26" y1="651.4" x2="1534.02" y2="701.08" stroke="#ddd5d3" stroke-width="1.2" stroke-linecap="butt"/>
<line x1="1755.56" y1="711.6" x2="1755.56" y2="565.3" stroke="#ddd5d3" stroke-width="1.2" stroke-linecap="butt"/>
<line x1="1755.56" y1="711.6" x2="1626.32" y2="761.28" stroke="#ddd5d3" stroke-width="1.2" stroke-linecap="butt"/>
<polyline points="1497.1,530.7 1497.1,677 1663.24,785.36 1792.48,735.68" fill="none" stroke="#453e3c" stroke-width="1.8" stroke-linejoin="round" stroke-linecap="butt"/>
<line x1="1497.1" y1="677" x2="1492.91" y2="674.27" stroke="#453e3c" stroke-width="1.8" stroke-linecap="butt"/>
<line x1="1497.1" y1="603.85" x2="1492.91" y2="601.12" stroke="#453e3c" stroke-width="1.8" stroke-linecap="butt"/>
<line x1="1497.1" y1="530.7" x2="1492.91" y2="527.97" stroke="#453e3c" stroke-width="1.8" stroke-linecap="butt"/>
<line x1="1534.02" y1="701.08" x2="1529.35" y2="702.87" stroke="#453e3c" stroke-width="1.8" stroke-linecap="butt"/>
<line x1="1626.32" y1="761.28" x2="1621.65" y2="763.07" stroke="#453e3c" stroke-width="1.8" stroke-linecap="butt"/>
<line x1="1691.96" y1="774.32" x2="1696.15" y2="777.05" stroke="#453e3c" stroke-width="1.8" stroke-linecap="butt"/>
<line x1="1763.76" y1="746.72" x2="1767.95" y2="749.45" stroke="#453e3c" stroke-width="1.8" stroke-linecap="butt"/>
<polygon points="1568.9,649.4 1642.74,697.56 1642.74,552.58 1568.9,504.42" fill="#6c9097" stroke="#3a4446" stroke-width="0.9" stroke-linejoin="round"/>
<polygon points="1642.74,697.56 1700.18,675.48 1700.18,530.5 1642.74,552.58" fill="#6c9097" stroke="#3a4446" stroke-width="0.9" stroke-linejoin="round"/>
<polygon points="1568.9,504.42 1642.74,552.58 1700.18,530.5 1626.34,482.34" fill="#6c9097" stroke="#3a4446" stroke-width="0.9" stroke-linejoin="round"/>
<polygon points="1497.1,677 1570.94,725.16 1570.94,724.57 1497.1,676.41" fill="#6c9097" stroke="#3a4446" stroke-width="0.9" stroke-linejoin="round"/>
<polygon points="1570.94,725.16 1628.38,703.08 1628.38,702.49 1570.94,724.57" fill="#6c9097" stroke="#3a4446" stroke-width="0.9" stroke-linejoin="round"/>
<polygon points="1497.1,676.41 1570.94,724.57 1628.38,702.49 1554.54,654.33" fill="#6c9097" stroke="#3a4446" stroke-width="0.9" stroke-linejoin="round"/>
<polygon points="1661.2,709.6 1735.04,757.76 1735.04,756.88 1661.2,708.72" fill="#6c9097" stroke="#3a4446" stroke-width="0.9" stroke-linejoin="round"/>
<polygon points="1735.04,757.76 1792.48,735.68 1792.48,734.8 1735.04,756.88" fill="#6c9097" stroke="#3a4446" stroke-width="0.9" stroke-linejoin="round"/>
<polygon points="1661.2,708.72 1735.04,756.88 1792.48,734.8 1718.64,686.64" fill="#6c9097" stroke="#3a4446" stroke-width="0.9" stroke-linejoin="round"/>
<polygon points="1589.4,737.2 1663.24,785.36 1663.24,640.67 1589.4,592.51" fill="#6c9097" stroke="#3a4446" stroke-width="0.9" stroke-linejoin="round"/>
<polygon points="1663.24,785.36 1720.68,763.28 1720.68,618.59 1663.24,640.67" fill="#6c9097" stroke="#3a4446" stroke-width="0.9" stroke-linejoin="round"/>
<polygon points="1589.4,592.51 1663.24,640.67 1720.68,618.59 1646.84,570.43" fill="#6c9097" stroke="#3a4446" stroke-width="0.9" stroke-linejoin="round"/>
<text transform="translate(1617.5 475.5) scale(1 1.04)" font-family="'Liberation Serif', 'DejaVu Serif', serif" font-size="28" font-weight="normal" text-anchor="middle" fill="#1a1a1a" stroke="#1a1a1a" stroke-width="0.2">after</text>
<text transform="translate(1408 488) scale(1 1.04)" font-family="'Liberation Serif', 'DejaVu Serif', serif" font-size="33" font-weight="normal" text-anchor="start" fill="#3a3a3a" stroke="#3a3a3a" stroke-width="0.2">Power</text>
<text transform="translate(1484 535.3) scale(1 1.03)" font-family="'Liberation Serif', 'DejaVu Serif', serif" font-size="26.5" font-weight="normal" text-anchor="end" fill="#1a1a1a" stroke="#1a1a1a" stroke-width="0.2">1</text>
<text transform="translate(1484.5 609) scale(1 1.03)" font-family="'Liberation Serif', 'DejaVu Serif', serif" font-size="26.5" font-weight="normal" text-anchor="end" fill="#1a1a1a" stroke="#1a1a1a" stroke-width="0.2">0.5</text>
<text transform="translate(1486 681) scale(1 1.03)" font-family="'Liberation Serif', 'DejaVu Serif', serif" font-size="26.5" font-weight="normal" text-anchor="end" fill="#1a1a1a" stroke="#1a1a1a" stroke-width="0.2">0</text>
<text transform="translate(1514 731) scale(1 1.03)" font-family="'Liberation Serif', 'DejaVu Serif', serif" font-size="26.5" font-weight="normal" text-anchor="middle" fill="#1a1a1a" stroke="#1a1a1a" stroke-width="0.2">1</text>
<text transform="translate(1606 791) scale(1 1.03)" font-family="'Liberation Serif', 'DejaVu Serif', serif" font-size="26.5" font-weight="normal" text-anchor="middle" fill="#1a1a1a" stroke="#1a1a1a" stroke-width="0.2">2</text>
<text transform="translate(1709 806) scale(1 1.03)" font-family="'Liberation Serif', 'DejaVu Serif', serif" font-size="26.5" font-weight="normal" text-anchor="middle" fill="#1a1a1a" stroke="#1a1a1a" stroke-width="0.2">1</text>
<text transform="translate(1781 779) scale(1 1.03)" font-family="'Liberation Serif', 'DejaVu Serif', serif" font-size="26.5" font-weight="normal" text-anchor="middle" fill="#1a1a1a" stroke="#1a1a1a" stroke-width="0.2">2</text>
<text transform="translate(1474 780.3) scale(1 1.04)" font-family="'Liberation Serif', 'DejaVu Serif', serif" font-size="33" font-weight="normal" text-anchor="start" fill="#1a1a1a" stroke="#1a1a1a" stroke-width="0.2">Output</text>
<text transform="translate(1728 804) scale(1 1.04)" font-family="'Liberation Serif', 'DejaVu Serif', serif" font-size="33" font-weight="normal" text-anchor="start" fill="#1a1a1a" stroke="#1a1a1a" stroke-width="0.2">Input</text>
</g>
<g font-family="'Liberation Sans', 'DejaVu Sans', sans-serif" font-size="41.5" font-weight="bold" fill="#000"><text transform="translate(0.9 33.7) scale(0.9 1.03)">(</text><text transform="translate(14.96 33.7) scale(0.9 1.03)">a</text><text transform="translate(39.14 33.7) scale(0.9 1.03)">)</text></g>
<g font-family="'Liberation Sans', 'DejaVu Sans', sans-serif" font-size="41.5" font-weight="bold" fill="#000"><text transform="translate(486 33.7) scale(0.9 1.03)">(</text><text transform="translate(500.06 33.7) scale(1 1.03)">b</text><text transform="translate(526.3 33.7) scale(0.9 1.03)">)</text></g>
<g font-family="'Liberation Sans', 'DejaVu Sans', sans-serif" font-size="41.5" font-weight="bold" fill="#000"><text transform="translate(972.3 33.7) scale(0.9 1.03)">(</text><text transform="translate(985.56 33.7) scale(1 1.03)">c</text><text transform="translate(1010.24 33.7) scale(0.9 1.03)">)</text></g>
<g font-family="'Liberation Sans', 'DejaVu Sans', sans-serif" font-size="41.5" font-weight="bold" fill="#000"><text transform="translate(1364.9 33.7) scale(0.9 1.03)">(</text><text transform="translate(1378.96 33.7) scale(1 1.03)">d</text><text transform="translate(1405.2 33.7) scale(0.9 1.03)">)</text></g>
<g font-family="'Liberation Sans', 'DejaVu Sans', sans-serif" font-size="41.5" font-weight="bold" fill="#000"><text transform="translate(0.9 445) scale(0.9 1.03)">(</text><text transform="translate(14.36 445) scale(1 1.03)">e</text><text transform="translate(39.14 445) scale(0.9 1.03)">)</text></g>
<g font-family="'Liberation Sans', 'DejaVu Sans', sans-serif" font-size="41.5" font-weight="bold" fill="#000"><text transform="translate(486 445) scale(0.9 1.03)">(</text><text transform="translate(499.86 445) scale(1 1.03)">f</text><text transform="translate(515.12 445) scale(0.9 1.03)">)</text></g>
<g font-family="'Liberation Sans', 'DejaVu Sans', sans-serif" font-size="41.5" font-weight="bold" fill="#000"><text transform="translate(972 444.3) scale(0.9 1.03)">(</text><text transform="translate(986.06 444.3) scale(1 1.03)">g</text><text transform="translate(1012.3 444.3) scale(0.9 1.03)">)</text></g>
<g font-family="'Liberation Sans', 'DejaVu Sans', sans-serif" font-size="41.5" font-weight="bold" fill="#000"><text transform="translate(1364.7 444.3) scale(0.9 1.03)">(</text><text transform="translate(1378.46 444.3) scale(1 1.03)">h</text><text transform="translate(1405 444.3) scale(0.9 1.03)">)</text></g>
</svg></body></html>
